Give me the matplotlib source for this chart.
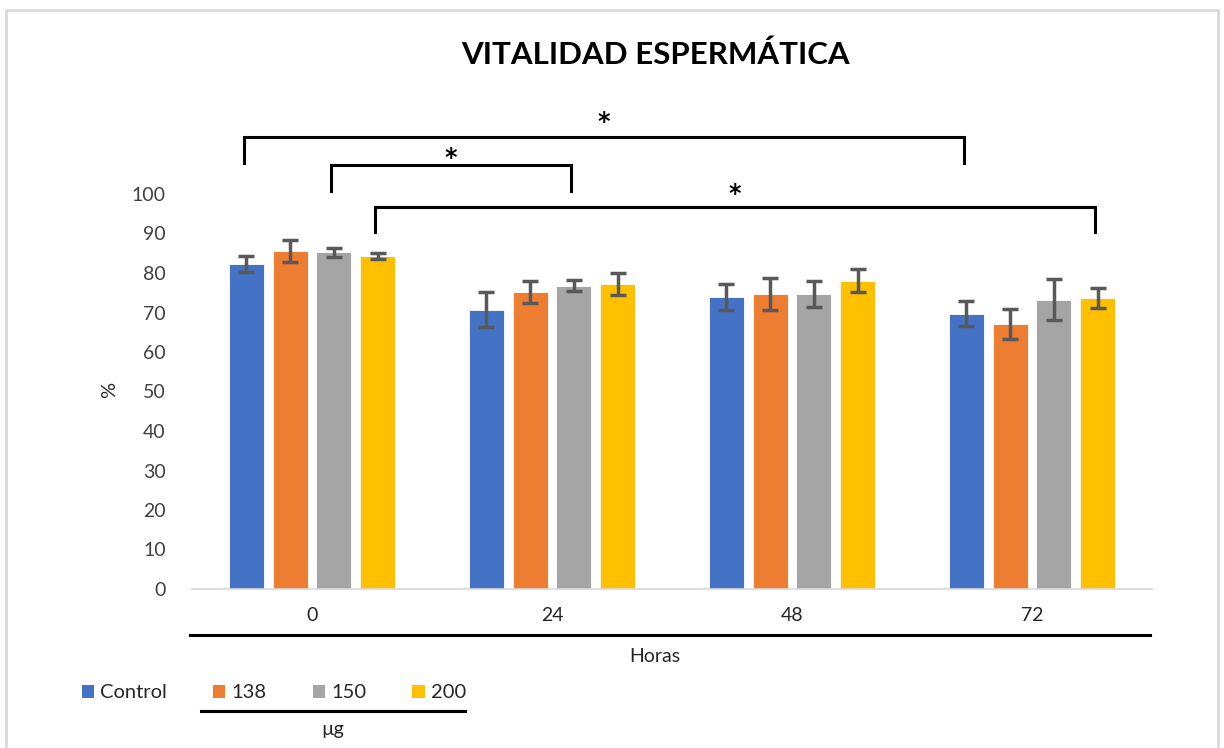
import matplotlib
matplotlib.use("Agg")
import matplotlib.pyplot as plt
from matplotlib.patches import Patch, Rectangle
from matplotlib.lines import Line2D
import numpy as np

plt.rcParams['font.family'] = ['Lato', 'DejaVu Sans']

# ---- data ----
hours = ["0", "24", "48", "72"]
doses = ["Control", "138", "150", "200"]
colors = ["#4472C4", "#ED7D31", "#A5A5A5", "#FFC000"]
control = [82.3, 70.7, 73.9, 69.7]
d138 = [85.6, 75.2, 74.7, 67.1]
d150 = [85.2, 76.8, 74.7, 73.2]
d200 = [84.3, 77.2, 78.1, 73.6]
err_control = [2.0, 4.4, 3.2, 3.2]
err_138 = [2.8, 2.8, 4.1, 3.7]
err_150 = [1.2, 1.4, 3.2, 5.2]
err_200 = [0.8, 2.8, 2.8, 2.5]
yticks = list(range(0, 101, 10))
title = "VITALIDAD ESPERMÁTICA"
xlabel = "Horas"
ylabel = "%"
legend_title = "µg"
# significance brackets: (dose index, hour index start, hour index end)
brackets = [(0, 0, 3), (2, 0, 1), (3, 0, 3)]

series = [control, d138, d150, d200]
errs = [err_control, err_138, err_150, err_200]

W, H = 1224, 748
fig = plt.figure(figsize=(W / 100, H / 100), dpi=100)

def fx(px):
    return px / W

def fy(py):
    return 1 - py / H

# figure border
fig.patches.append(Rectangle((fx(6), fy(760)), fx(1212), fy(10) - fy(760),
                             transform=fig.transFigure, fill=False,
                             edgecolor="#D9D9D9", linewidth=2))

ax = fig.add_axes([fx(192), fy(589), fx(1152) - fx(192), fy(194) - fy(589)])

x = np.arange(len(hours))
bw = 0.146
step = 0.182
offsets = (np.arange(4) - 1.5) * step
for i, (vals, e) in enumerate(zip(series, errs)):
    ax.bar(x + offsets[i], vals, width=bw, color=colors[i], edgecolor="white",
           linewidth=0.6, label=doses[i], zorder=2)
    ax.errorbar(x + offsets[i], vals, yerr=e, fmt="none", ecolor="#595959",
                elinewidth=2.5, capsize=6, capthick=2.5, zorder=3)

ax.set_xlim(-0.5, len(hours) - 0.5)
ax.set_ylim(0, 100)
ax.set_yticks(yticks)
ax.set_yticklabels([str(t) for t in yticks], fontsize=14, color="#404040")
ax.set_xticks(x)
ax.set_xticklabels(hours, fontsize=14, color="#262626")
ax.tick_params(axis="both", length=0)
ax.tick_params(axis="y", pad=19)
ax.tick_params(axis="x", pad=13)
for s in ["left", "right", "top"]:
    ax.spines[s].set_visible(False)
ax.spines["bottom"].set_color("#D9D9D9")
ax.spines["bottom"].set_linewidth(1.2)

# significance brackets (y levels in data units): low end, top, star level
levels = [(107.8, 114.4, 118.3), (100.8, 107.3, 109.0), (90.4, 96.7, 100.0)]
bracket_dx = -0.012
for (di, h0, h1), (ylow, ytop, ystar) in zip(brackets, levels):
    x0 = x[h0] + offsets[di] + bracket_dx
    x1 = x[h1] + offsets[di] + bracket_dx
    ax.plot([x0, x0, x1, x1], [ylow, ytop, ytop, ylow], color="black",
            lw=2.2, clip_on=False, solid_joinstyle="miter", zorder=4)
    ax.text((x0 + x1) / 2, ystar, "*", ha="center", va="center",
            fontsize=17, family="DejaVu Sans", fontweight="bold",
            clip_on=False)

# y label
fig.text(fx(110), fy(390), ylabel, rotation=90, ha="center", va="center",
         fontsize=14.5, color="#262626")

# title
fig.text(fx(655), fy(55), title, ha="center", va="center", fontsize=22.5,
         fontweight="bold", color="black")

# line under x tick labels and x label
fig.add_artist(Line2D([fx(190), fx(1150)], [fy(635), fy(635)],
                      color="black", lw=2.2, transform=fig.transFigure))
fig.text(fx(655), fy(656), xlabel, ha="center", va="center", fontsize=14,
         color="#262626")

# legend
handles = [Patch(facecolor=c, edgecolor="none") for c in colors]
leg = fig.legend(handles, doses, loc="center left",
                 bbox_to_anchor=(fx(82), fy(693)), ncol=4, frameon=False,
                 fontsize=14.5, handlelength=0.6, handleheight=0.6,
                 handletextpad=0.3, columnspacing=2.3, borderpad=0,
                 borderaxespad=0)
for t in leg.get_texts():
    t.set_color("#262626")
fig.add_artist(Line2D([fx(201), fx(465)], [fy(711), fy(711)],
                      color="black", lw=2.2, transform=fig.transFigure))
fig.text(fx(333), fy(729), legend_title, ha="center", va="center",
         fontsize=14, color="#262626")

fig.savefig("out.png", dpi=100)
